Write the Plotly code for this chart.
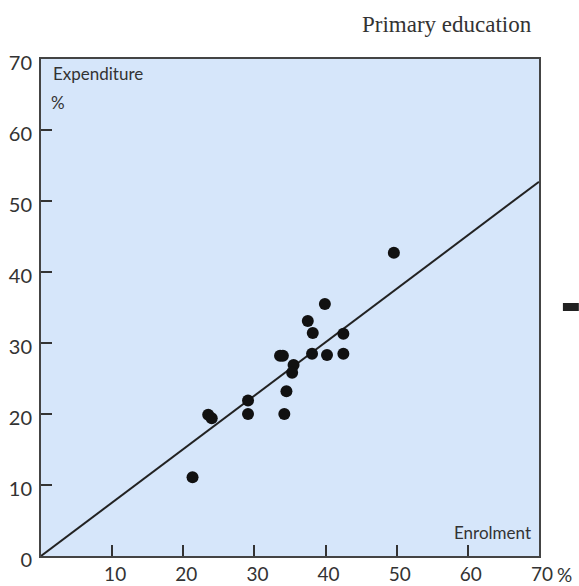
import plotly.graph_objects as go

# Data
enrolment = [49.6, 39.9, 37.5, 38.2, 42.5, 33.6, 34.0, 38.1, 40.2, 42.5,
             35.5, 35.3, 34.5, 29.1, 29.1, 34.2, 23.5, 24.0, 21.3]
expenditure = [42.7, 35.5, 33.1, 31.4, 31.3, 28.2, 28.2, 28.5, 28.3, 28.5,
               26.9, 25.8, 23.2, 21.9, 20.0, 20.0, 19.9, 19.4, 11.1]
line_x = [0, 70]
line_y = [0, 52.7]
x_ticks = [10, 20, 30, 40, 50, 60, 70]
y_ticks = [0, 10, 20, 30, 40, 50, 60, 70]

x_tick_font = dict(family="Lato", size=19, color="#333333")
y_tick_font = dict(family="Lato", size=20, color="#333333")

fig = go.Figure()
fig.add_trace(go.Scatter(x=line_x, y=line_y, mode="lines",
                         line=dict(color="#222222", width=2), hoverinfo="skip"))
fig.add_trace(go.Scatter(x=enrolment, y=expenditure, mode="markers",
                         marker=dict(color="#111111", size=12)))

fig.update_layout(
    width=579, height=586,
    margin=dict(l=41, r=40, t=59, b=30, autoexpand=False),
    paper_bgcolor="white",
    plot_bgcolor="#d6e6fa",
    showlegend=False,
    xaxis=dict(range=[0, 70], tickvals=x_ticks, ticktext=[str(v) for v in x_ticks],
               ticks="inside", ticklen=11, tickwidth=2, tickcolor="#333333",
               showgrid=False, zeroline=False, showline=True, linecolor="#444444",
               linewidth=2, mirror=True, tickfont=x_tick_font, ticklabelstandoff=0,
               ticklabelshift=3, automargin=False),
    yaxis=dict(range=[0, 70], tickvals=y_ticks, ticktext=[str(v) for v in y_ticks],
               ticks="inside", ticklen=11, tickwidth=2, tickcolor="#333333",
               showgrid=False, zeroline=False, showline=True, linecolor="#444444",
               linewidth=2, mirror=True, tickfont=y_tick_font, ticklabelstandoff=3,
               ticklabelshift=4, automargin=False),
    annotations=[
        dict(text="Primary education", xref="paper", yref="paper", x=0.99, y=1.0,
             yshift=35, xanchor="right", yanchor="middle", showarrow=False,
             font=dict(family="Liberation Serif", size=23, color="#333333")),
        dict(text="Expenditure", xref="paper", yref="paper", x=0, y=1, xshift=10, yshift=-14,
             xanchor="left", yanchor="middle", showarrow=False,
             font=dict(family="Lato", size=17, color="#333333")),
        dict(text="%", xref="paper", yref="paper", x=0, y=1, xshift=8, yshift=-43,
             xanchor="left", yanchor="middle", showarrow=False,
             font=dict(family="Lato", size=17, color="#333333")),
        dict(text="Enrolment", xref="paper", yref="paper", x=1, y=0, xshift=-6, yshift=24,
             xanchor="right", yanchor="middle", showarrow=False,
             font=dict(family="Lato", size=17, color="#333333")),
        dict(text="%", xref="x", yref="paper", x=70, y=0, xshift=16, yshift=-18,
             xanchor="left", yanchor="middle", showarrow=False, font=x_tick_font),
    ],
    shapes=[dict(type="rect", xref="paper", yref="paper", x0=1.048, x1=1.08,
                 y0=0.493, y1=0.509, fillcolor="#222222", line=dict(width=0))],
)

fig.write_html("out.html", config={"displayModeBar": False},
               post_script="document.body.style.margin='0';document.body.style.padding='0';")
